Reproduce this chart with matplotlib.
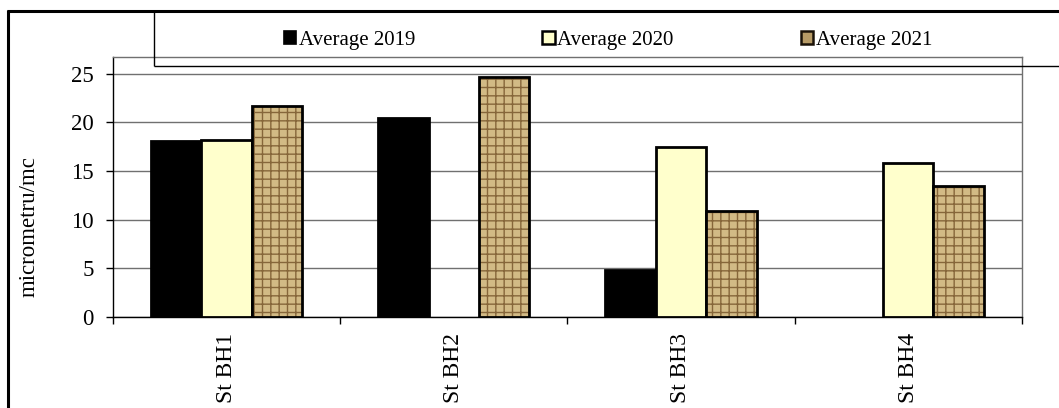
import numpy as np
import matplotlib
matplotlib.use("Agg")
import matplotlib.pyplot as plt
from matplotlib.patches import Patch
from matplotlib.lines import Line2D

plt.rcParams["font.family"] = ["Liberation Serif", "DejaVu Serif"]
plt.rcParams["hatch.linewidth"] = 1.0

statii = ["St BH1", "St BH2", "St BH3", "St BH4"]
serii = ["Average 2019", "Average 2020", "Average 2021"]
# nan = fara masuratori in anul respectiv
medie_2019 = [18.1, 20.4, 4.8, np.nan]
medie_2020 = [18.2, np.nan, 17.5, 15.8]
medie_2021 = [21.7, 24.6, 10.85, 13.45]

W, H = 1059, 408
fig = plt.figure(figsize=(W / 100, H / 100), dpi=100)
ax = fig.add_axes([113 / W, 1 - 317 / H, (1021.7 - 113) / W, (317 - 57) / H])

x = np.arange(len(statii))
latime = 1 / 4.5

# 2019 - negru, 2020 - galben pal, 2021 - textura maro
ax.bar(x - latime, medie_2019, latime, color="black", edgecolor="black",
       linewidth=2, zorder=3)
ax.bar(x, medie_2020, latime, color="#FFFFCC", edgecolor="black",
       linewidth=2, zorder=3)
ax.bar(x + latime, medie_2021, latime, color="#D2BA85", edgecolor="#86663A",
       hatch="++", linewidth=0, zorder=3)
ax.bar(x + latime, medie_2021, latime, fill=False, edgecolor="black",
       linewidth=2, zorder=4)

ax.set_xlim(-0.5, len(statii) - 0.5)
ax.set_ylim(0, 26.7)
ax.set_yticks(np.arange(0, 26, 5))
ax.yaxis.grid(True, color="#707070", linewidth=1.0, zorder=0)
ax.set_axisbelow(True)

ax.set_xticks(x)
ax.set_xticklabels(statii, rotation=90, va="top")
ax.set_xticks(np.arange(-0.5, len(statii)), minor=True)
ax.tick_params(axis="x", which="major", length=0, pad=11.5, labelsize=17)
ax.tick_params(axis="x", which="minor", length=5, width=1, direction="out")
ax.tick_params(axis="y", length=5, width=1, direction="out", pad=9,
               labelsize=16.5)

for s in ["top", "right"]:
    ax.spines[s].set_color("#707070")
    ax.spines[s].set_linewidth(1.0)
for s in ["left", "bottom"]:
    ax.spines[s].set_color("black")
    ax.spines[s].set_linewidth(1.0)

ax.set_ylabel("micrometru/mc", fontsize=16.5)
ax.yaxis.set_label_coords((40 - 113) / (1021.7 - 113), (317 - 227) / 260)

# legenda sus, intr-o caseta proprie
handles = [
    Patch(facecolor="black", edgecolor="black", linewidth=1.2),
    Patch(facecolor="#FFFFCC", edgecolor="black", linewidth=1.8),
    Patch(facecolor="#B79B66", edgecolor="#1a1208", linewidth=1.8),
]
fig.legend(handles, serii, loc="center", bbox_to_anchor=(608 / W, 1 - 40 / H),
           ncol=3, frameon=False, fontsize=15, handlelength=0.6,
           handleheight=0.6, handletextpad=0.12, columnspacing=6.1)

def linie(x0, y0, x1, y1, lw, color="black"):
    fig.add_artist(Line2D([x0 / W, x1 / W], [1 - y0 / H, 1 - y1 / H],
                          transform=fig.transFigure, color=color,
                          linewidth=lw, solid_capstyle="butt"))

# caseta legendei
linie(154, 11, 154, 65.5, 1.0)
linie(154, 65.5, W + 5, 65.5, 1.0)
# chenarul exterior
linie(8, 10, 8, H + 5, 2.2)
linie(7, 10.5, W + 5, 10.5, 2.2)

fig.savefig("out.png", dpi=100)
